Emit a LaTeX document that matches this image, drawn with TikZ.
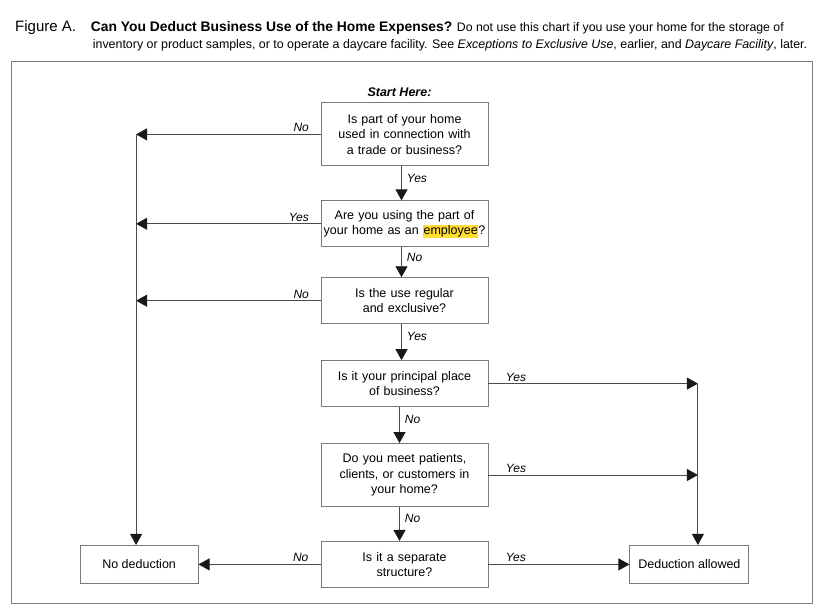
\documentclass[tikz,border=0pt]{standalone}
\usepackage{fontspec}
\setmainfont{Liberation Sans}
\usetikzlibrary{arrows.meta, positioning, calc}
\definecolor{hlyellow}{HTML}{FFDD33}
\definecolor{linec}{HTML}{4A4A4A}
\definecolor{boxc}{HTML}{7A7A7A}
\newcommand{\hlword}[1]{{\setlength{\fboxsep}{0.6pt}\colorbox{hlyellow}{#1}}}

\begin{document}
\begin{tikzpicture}[x=1pt, y=-1pt, >={Triangle[length=11pt, width=12pt, color=black!90]},
  box/.style={draw=boxc, line width=0.9pt, text width=166pt, inner xsep=0.5pt, inner ysep=0pt, align=center, minimum height=46pt, font=\fontsize{12.5}{15.3}\selectfont},
  endbox/.style={draw=boxc, line width=0.9pt, inner sep=0pt, minimum height=38pt, font=\fontsize{12.5}{15.3}\selectfont},
  lab/.style={inner sep=2pt, font=\fontsize{12}{14}\selectfont\itshape},
  flow/.style={draw=linec, line width=0.9pt}]
\useasboundingbox (0,0) rectangle (828,605);

% caption
\node[anchor=base west, inner sep=0pt, font=\fontsize{15}{18}\selectfont] (fig) at (15,31.5) {Figure A.};
\node[anchor=base west, inner sep=0pt, font=\fontsize{12.3}{17}\selectfont] (title1) at (90.7,31.5) {{\bfseries\fontsize{13.85}{17}\selectfont Can You Deduct Business Use of the Home Expenses?} Do not use this chart if you use your home for the storage of};
\node[anchor=base west, inner sep=0pt, font=\fontsize{12.4}{17}\selectfont] (title2) at (92.7,48.5) {inventory or product samples, or to operate a daycare facility. See \textit{Exceptions to Exclusive Use}, earlier, and \textit{Daycare Facility}, later.};

\draw[draw=boxc, line width=0.9pt] (11,61) rectangle (812,603);

% questions
\node[box, minimum height=63pt] (q1) at (404.5,134.4) {Is part of your home\\ used in connection with\\ a trade or business?};
\node[box, below=34pt of q1] (q2) {Are you using the part of\\ your home as an \hlword{employee}?};
\node[box, below=30pt of q2] (q3) {Is the use regular\\ and exclusive?};
\node[box, below=36pt of q3] (q4) {Is it your principal place\\ of business?};
\node[box, minimum height=63pt, below=36pt of q4] (q5) {Do you meet patients,\\ clients, or customers in\\ your home?};
\node[box, below=34pt of q5] (q6) {Is it a separate\\ structure?};
\node[above=6pt of q1, xshift=-5pt, inner sep=0pt, font=\fontsize{12.5}{15}\selectfont\bfseries\itshape] (start) {Start Here:};

% results
\node[endbox, minimum width=118pt, left=122pt of q6] (nodeduct) {No deduction};
\node[endbox, minimum width=119pt, right=141pt of q6] (deduct) {Deduction allowed};
\coordinate (leftrail) at ([xshift=-3pt]nodeduct.north);
\coordinate (rightrail) at ([xshift=8.5pt]deduct.north);

% down the middle
\draw[flow, ->] ([xshift=-3pt]q1.south) -- node[lab, right=3pt, pos=0.35] {Yes} ([xshift=-3pt]q2.north);
\draw[flow, ->] ([xshift=-3pt]q2.south) -- node[lab, right=3pt, pos=0.35] {No} ([xshift=-3pt]q3.north);
\draw[flow, ->] ([xshift=-3pt]q3.south) -- node[lab, right=3pt, pos=0.35] {Yes} ([xshift=-3pt]q4.north);
\draw[flow, ->] ([xshift=-5pt]q4.south) -- node[lab, right=3pt, pos=0.35] {No} ([xshift=-5pt]q5.north);
\draw[flow, ->] ([xshift=-5pt]q5.south) -- node[lab, right=3pt, pos=0.35] {No} ([xshift=-5pt]q6.north);

% left side
\draw[flow, ->] (q1.west) -- node[lab, above left, pos=0.05] {No} (q1.west -| leftrail);
\draw[flow, ->] (q2.west) -- node[lab, above left, pos=0.05] {Yes} (q2.west -| leftrail);
\draw[flow, ->] (q3.west) -- node[lab, above left, pos=0.05] {No} (q3.west -| leftrail);
\draw[flow, ->] (q1.west -| leftrail) -- (leftrail);
\draw[flow, ->] (q6.west) -- node[lab, above left, pos=0.08] {No} (nodeduct.east);

% right side
\draw[flow, ->] (q4.east) -- node[lab, above right, pos=0.072] {Yes} (q4.east -| rightrail);
\draw[flow, ->] (q5.east) -- node[lab, above right, pos=0.072] {Yes} (q5.east -| rightrail);
\draw[flow, ->] (q4.east -| rightrail) -- (rightrail);
\draw[flow, ->] (q6.east) -- node[lab, above right, pos=0.106] {Yes} (deduct.west);
\end{tikzpicture}
\end{document}
